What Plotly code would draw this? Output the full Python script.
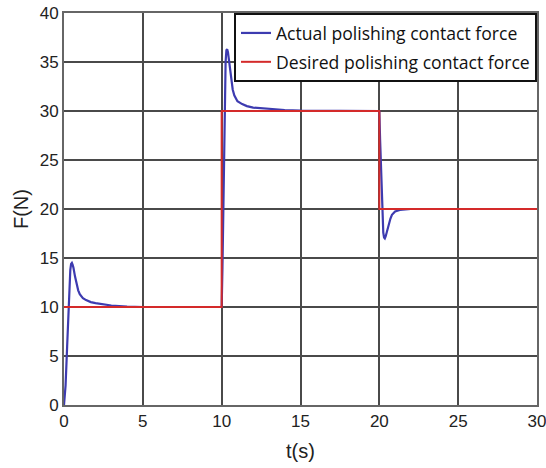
import plotly.graph_objects as go

# Actual polishing contact force
t_actual = [0, 0.1, 0.2, 0.3, 0.4, 0.45, 0.5, 0.55, 0.6, 0.7, 0.8, 0.9, 1.0, 1.2, 1.4, 1.7, 2.0, 2.5, 3.0, 4.0, 5.0, 7.0,
            10.0, 10.05, 10.1, 10.15, 10.2, 10.25, 10.3, 10.35, 10.4, 10.45, 10.5, 10.6, 10.7, 10.8, 11.0, 11.3, 11.6, 12.0, 13.0, 14.0, 15.0, 17.0,
            20.0, 20.05, 20.1, 20.15, 20.2, 20.25, 20.3, 20.35, 20.4, 20.5, 20.6, 20.7, 20.8, 21.0, 21.3, 21.6, 22.0, 23.0, 25.0, 30.0]
f_actual = [0, 2.0, 6.0, 11.0, 13.8, 14.4, 14.5, 14.3, 14.0, 13.1, 12.3, 11.7, 11.3, 10.9, 10.7, 10.5, 10.4, 10.25, 10.15, 10.05, 10.0, 10.0,
            10.0, 14.0, 20.0, 27.0, 32.0, 35.0, 36.2, 36.3, 36.0, 35.3, 34.4, 33.0, 32.2, 31.6, 31.0, 30.7, 30.5, 30.35, 30.2, 30.1, 30.05, 30.0,
            30.0, 27.0, 24.0, 21.0, 18.8, 17.6, 17.1, 17.0, 17.2, 17.8, 18.5, 19.0, 19.4, 19.75, 19.9, 19.97, 20.0, 20.0, 20.0, 20.0]

# Desired polishing contact force (step profile)
t_desired = [0, 10, 10, 20, 20, 30]
f_desired = [10, 10, 30, 30, 20, 20]

x_ticks = [0, 5, 10, 15, 20, 25, 30]
y_ticks = [0, 5, 10, 15, 20, 25, 30, 35, 40]

fig = go.Figure()
fig.add_trace(go.Scatter(x=t_actual, y=f_actual, mode="lines", name="Actual polishing contact force",
                         line=dict(color="#3d3bb0", width=2.2),
                         legendgroup="a"))
fig.add_trace(go.Scatter(x=t_desired, y=f_desired, mode="lines", name="Desired polishing contact force",
                         line=dict(color="#d42a2a", width=2), legendgroup="d"))

axis_common = dict(showgrid=True, gridcolor="#4a4a4a", gridwidth=1.5, showline=True, linecolor="#666666",
                   linewidth=2, mirror=True, zeroline=False, ticks="", automargin=False,
                   ticklabeloverflow="allow",
                   tickfont=dict(family="Liberation Sans, Arial", size=17, color="#222222"))

fig.update_layout(
    width=546, height=468,
    margin=dict(l=64, r=9, t=13, b=63),
    paper_bgcolor="white", plot_bgcolor="white",
    showlegend=True,
    legend=dict(x=1, y=1, xanchor="right", yanchor="top", bgcolor="white",
                bordercolor="#111111", borderwidth=2, tracegroupgap=3, itemwidth=30,
                font=dict(family="Open Sans", size=17.6, color="#111111")),
    xaxis=dict(range=[0, 30], tickvals=x_ticks,
               title=dict(text="t(s)", font=dict(family="Liberation Sans, Arial", size=20, color="#222222"), standoff=14),
               **axis_common),
    yaxis=dict(range=[0, 40], tickvals=y_ticks,
               title=dict(text="F(N)", font=dict(family="Liberation Sans, Arial", size=20, color="#222222"), standoff=6),
               **axis_common),
)

fig.write_html("out.html", config={"displayModeBar": False},
               post_script="document.body.style.margin='0';document.body.style.overflow='hidden';")
